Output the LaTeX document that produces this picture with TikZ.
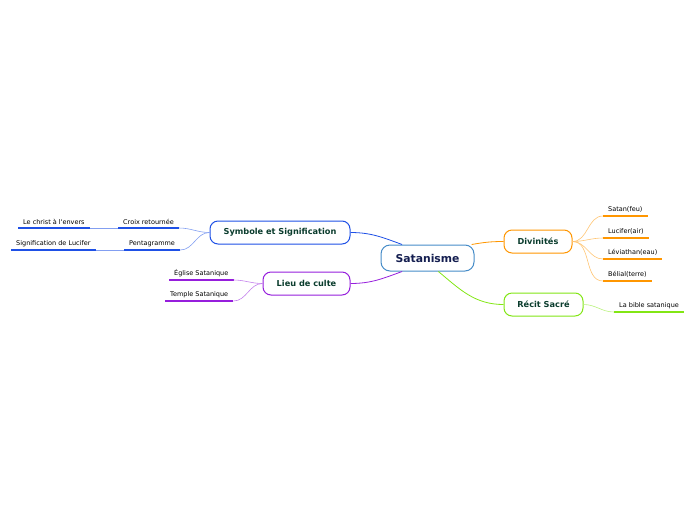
\documentclass[tikz,border=0pt]{standalone}
\usepackage{fontspec}
\setmainfont{DejaVu Sans}
\definecolor{centreblue}{RGB}{70,140,200}
\definecolor{navytext}{RGB}{20,30,80}
\definecolor{tealtext}{RGB}{10,60,45}
\definecolor{symbblue}{RGB}{30,80,230}
\definecolor{cultpurple}{RGB}{150,30,220}
\definecolor{divorange}{RGB}{255,150,0}
\definecolor{recitgreen}{RGB}{130,230,20}
\begin{document}
\begin{tikzpicture}[x=1pt,y=-1pt,
	main/.style={draw=centreblue,line width=1pt,rounded corners=9pt,fill=white,text=navytext,font=\bfseries\fontsize{10.8}{12}\selectfont,minimum width=93pt,minimum height=26pt},
	branch/.style={draw=#1,line width=1pt,rounded corners=8pt,fill=white,text=tealtext,font=\bfseries\fontsize{8.2}{9}\selectfont,minimum height=23pt},
	leaf/.style={font=\fontsize{6.5}{7}\selectfont,inner xsep=5pt,inner ysep=3pt,anchor=south west},
	uline/.style={draw=#1,line width=1.5pt},
	link/.style={draw=#1,line width=0.8pt},
	twig/.style={draw=#1!55,line width=0.6pt}]
		\useasboundingbox (0,0) rectangle (696,520);
		% centre and main branches
		\node[main] (sat) at (427.5,258) {Satanisme};
		\node[branch=symbblue,minimum width=140pt] (symb) at (280,232.5) {Symbole et Signification};
		\node[branch=cultpurple,minimum width=87pt] (lieu) at (306.5,283.5) {Lieu de culte};
		\node[branch=divorange,minimum width=68pt] (divin) at (538,241.5) {Divinités};
		\node[branch=recitgreen,minimum width=79pt] (recit) at (543.5,304.5) {Récit Sacré};
		\draw[link=symbblue] (sat.152) to[out=160,in=0] (symb.east);
		\draw[link=cultpurple] (sat.208) to[out=200,in=0] (lieu.east);
		\draw[link=divorange] (sat.17) to[out=10,in=180] (divin.west);
		\draw[link=recitgreen] (sat.309) to[out=-40,in=180] (recit.west);
		% Divinités
		\node[leaf] (satan) at (603,216) {Satan(feu)};
		\node[leaf] (lucifer) at (603,238) {Lucifer(air)};
		\node[leaf] (leviathan) at (603,259) {Léviathan(eau)};
		\node[leaf] (belial) at (603,281) {Bélial(terre)};
		\draw[uline=divorange] (satan.south west) -- (satan.south east);
		\draw[uline=divorange] (lucifer.south west) -- (lucifer.south east);
		\draw[uline=divorange] (leviathan.south west) -- (leviathan.south east);
		\draw[uline=divorange] (belial.south west) -- (belial.south east);
		\draw[twig=divorange] (divin.east) to[out=0,in=180] (satan.south west);
		\draw[twig=divorange] (divin.east) to[out=0,in=180] (lucifer.south west);
		\draw[twig=divorange] (divin.east) to[out=0,in=180] (leviathan.south west);
		\draw[twig=divorange] (divin.east) to[out=0,in=180] (belial.south west);
		% Récit Sacré
		\node[leaf] (bible) at (614,312) {La bible satanique};
		\draw[uline=recitgreen] (bible.south west) -- (bible.south east);
		\draw[twig=recitgreen] (recit.east) to[out=0,in=180] (bible.south west);
		% Symbole et Signification
		\node[leaf] (croix) at (118,228) {Croix retournée};
		\node[leaf] (christ) at (18,228) {Le christ à l\textquotesingle envers};
		\node[leaf] (penta) at (124,250) {Pentagramme};
		\node[leaf] (lucsig) at (11,250) {Signification de Lucifer};
		\draw[uline=symbblue] (croix.south west) -- (croix.south east);
		\draw[uline=symbblue] (christ.south west) -- (christ.south east);
		\draw[uline=symbblue] (penta.south west) -- (penta.south east);
		\draw[uline=symbblue] (lucsig.south west) -- (lucsig.south east);
		\draw[twig=symbblue] (symb.west) to[out=180,in=0] (croix.south east);
		\draw[twig=symbblue] (symb.west) to[out=180,in=0] (penta.south east);
		\draw[twig=symbblue] (croix.south west) -- (christ.south east);
		\draw[twig=symbblue] (penta.south west) -- (lucsig.south east);
		% Lieu de culte
		\node[leaf] (eglise) at (169,280) {Église Satanique};
		\node[leaf] (temple) at (165,301) {Temple Satanique};
		\draw[uline=cultpurple] (eglise.south west) -- (eglise.south east);
		\draw[uline=cultpurple] (temple.south west) -- (temple.south east);
		\draw[twig=cultpurple] (lieu.west) to[out=180,in=0] (eglise.south east);
		\draw[twig=cultpurple] (lieu.west) to[out=180,in=0] (temple.south east);
	\end{tikzpicture}
\end{document}
